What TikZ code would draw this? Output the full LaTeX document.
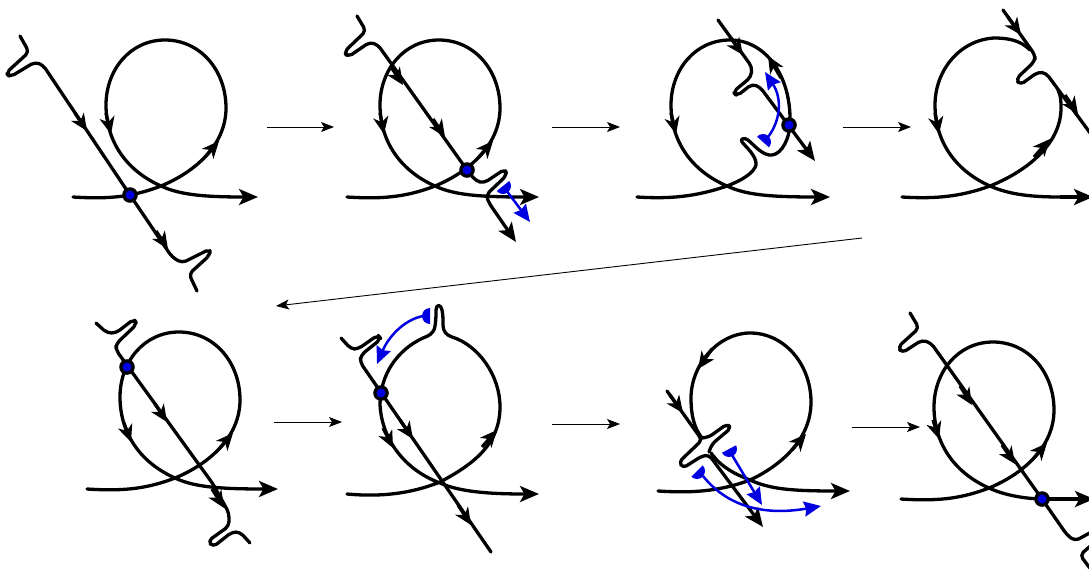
\documentclass[tikz,border=0pt]{standalone}
\usetikzlibrary{arrows.meta}
\definecolor{bl}{RGB}{0,0,225}
\tikzset{
  x=1pt,y=-1pt,
  strand/.style={line width=3.3pt,line cap=round,line join=round,rounded corners=4.5pt},
  loopline/.style={line width=3.3pt,line cap=round,line join=round},
  endtip/.style={-{Stealth[length=19pt,width=16pt,inset=4.5pt]}},
  midtip/.style={-{Stealth[length=17pt,width=15pt,inset=5pt]}},
  notip/.style={},
  thin arrow/.style={line width=0.9pt,-{Stealth[length=13pt,width=10pt,inset=3pt]}},
  bluestem/.style={draw=bl,line width=2.5pt,-{Stealth[length=17pt,width=15pt,inset=2pt]}},
}
\def\mh(#1)(#2){\draw[line width=3.3pt,midtip] (#1)--(#2);}
\def\hd(#1)#2{\fill[bl,shift={(#1)},rotate=#2] (0,8pt) arc (90:-90:8pt) -- cycle;}
\def\dt(#1){\fill (#1) circle (7.8pt); \fill[bl] (#1) circle (4.5pt);}
\def\stdloop#1#2#3#4{\draw[loopline,#4,shift={(#1,#2)}] (73,197) .. controls (105,199) and (130,198) .. (161,186) .. controls (195,172) and (226,145) .. (226,108) .. controls (226,70) and (200,40) .. (165,40) .. controls (130,40) and (106,70) .. (106,105) .. controls (106,140) and (125,170) .. (161,186) .. controls (180,195) and (205,197) .. (#3,197);}
\begin{document}
\begin{tikzpicture}
\useasboundingbox (0,0) rectangle (1089,568);
\clip (0,0) rectangle (1089,568);
% ---- small arrows between panels
\coordinate (a1) at (267,127); \coordinate (b1) at (334,127);
\coordinate (a2) at (552,127); \coordinate (b2) at (620,127);
\coordinate (a3) at (843,127); \coordinate (b3) at (911,127);
\coordinate (a4) at (862,238); \coordinate (b4) at (276,306);
\coordinate (a5) at (274,422); \coordinate (b5) at (342,422);
\coordinate (a6) at (552,424); \coordinate (b6) at (620,424);
\coordinate (a7) at (852,427); \coordinate (b7) at (920,427);
\draw[thin arrow] (a1)--(b1);
\draw[thin arrow] (a2)--(b2);
\draw[thin arrow] (a3)--(b3);
\draw[thin arrow] (a4)--(b4);
\draw[thin arrow] (a5)--(b5);
\draw[thin arrow] (a6)--(b6);
\draw[thin arrow] (a7)--(b7);
% ---- panel 1
\stdloop{0}{0}{258}{endtip}
\mh(106,113)(111,134)
\mh(205,157)(219,141)
\draw[strand] (20,36)--(29,52)--(6,73)--(10,77)--(35,62)--(43,65)--(130,195)--(172,257)--(182,263)--(210,249)--(210,255)--(189,274)--(197,291);
\mh(75,113)(87,131)
\mh(156,231)(168,249)
\dt(130,195)
% ---- panel 2
\stdloop{274}{0}{265}{endtip}
\mh(380,113)(384,134)
\mh(479,157)(493,141)
\draw[strand,endtip] (357,16)--(366,31)--(344,52)--(348,57)--(370,42)--(378,45)--(467,170)--(476,181)--(484,183)--(505,169)--(507,175)--(486,195)--(489,203)--(516,242);
\mh(391,67)(403,85)
\mh(433,119)(445,137)
\dt(467,170)
\hd(503,186){-51}
\draw[bluestem] (506,190)--(530,222);
% ---- panel 3
\draw[loopline,endtip] (637,197) .. controls (669,199) and (695,197) .. (727,186) .. controls (745,179) and (754,172) .. (756,165) .. controls (757,156) and (745,146) .. (742,142) .. controls (740,139) and (744,137) .. (748,140) .. controls (755,146) and (763,156) .. (772,155) .. controls (782,154) and (790,138) .. (790,122) .. controls (791,75) and (765,40) .. (730,40) .. controls (695,40) and (671,70) .. (671,105) .. controls (671,140) and (690,170) .. (727,186) .. controls (746,195) and (770,197) .. (830,197);
\mh(671,113)(676,134)
\mh(781,78)(768,56)
\draw[strand,endtip] (718,20)--(752,67)--(751,77)--(733,92)--(737,96)--(752,84)--(760,87)--(815,161);
\mh(730,37)(743,55)
\dt(789,125)
\hd(763,142){48}
\draw[bluestem] (768,137) .. controls (781,120) and (782,98) .. (765,72);
% ---- panel 4
\draw[loopline] (902,197) .. controls (934,199) and (960,197) .. (990,186) .. controls (1025,172) and (1061,145) .. (1061,108) .. controls (1061,102) and (1061,96) .. (1058,90);
\draw[loopline] (1030,50) .. controls (1022,42) and (1012,38) .. (994,38) .. controls (960,40) and (935,70) .. (935,105) .. controls (935,140) and (954,170) .. (990,186) .. controls (1010,195) and (1034,197) .. (1060,197);
\draw[line width=3.3pt,endtip] (1060,197)--(1093,197);
\mh(935,113)(939,134)
\mh(1034,157)(1050,139)
\draw[strand] (1003,10)--(1035,55)--(1035,61)--(1016,79)--(1020,85)--(1038,72)--(1046,73)--(1110,160);
\mh(1008,17)(1021,35)
\mh(1065,95)(1078,114)
% ---- panel 5
\stdloop{14}{292}{264}{endtip}
\mh(124,423)(131,442)
\mh(219,449)(233,433)
\draw[strand] (96,323)--(107,333)--(116,333)--(134,319)--(137,324)--(116,344)--(116,350)--(213,484)--(229,513)--(229,526)--(208,541)--(213,547)--(232,532)--(240,532)--(250,543);
\mh(155,404)(167,422)
\mh(212,489)(224,508)
\dt(127,367)
% ---- panel 6
\draw[loopline,endtip] (347,494) .. controls (380,497) and (410,494) .. (440,482) .. controls (472,465) and (500,445) .. (500,407) .. controls (500,375) and (478,345) .. (452,337) .. controls (446,335) and (443,331) .. (443,325) .. controls (443,318) and (443,315) .. (442,310) .. controls (441,304) and (436,304) .. (436,310) .. controls (436,315) and (436,320) .. (435,326) .. controls (434,334) and (428,336) .. (423,338) .. controls (397,350) and (380,375) .. (380,405) .. controls (382,440) and (405,470) .. (440,483) .. controls (460,492) and (490,494) .. (539,494);
\mh(383,428)(393,448)
\mh(482,447)(497,430)
\draw[strand] (341,338)--(351,349)--(358,349)--(378,335)--(381,339)--(361,355)--(360,362)--(491,552);
\mh(400,420)(413,439)
\mh(458,505)(471,525)
\dt(381,393)
\hd(430,316){180}
\draw[bluestem] (423,316) .. controls (403,320) and (388,338) .. (377,364);
% ---- panel 7
\draw[loopline] (658,491) .. controls (690,493) and (718,492) .. (750,480) .. controls (780,466) and (811,440) .. (811,402) .. controls (811,365) and (785,333) .. (750,333) .. controls (718,333) and (691,365) .. (691,398) .. controls (691,415) and (694,428) .. (702,438);
\draw[loopline,endtip] (711,453) .. controls (722,468) and (735,474) .. (750,480) .. controls (770,489) and (790,491) .. (850,491);
\draw[strand,rounded corners=4pt] (702,438)--(709,437)--(727,424)--(731,428)--(712,444)--(709,452);
\draw[strand,endtip,rounded corners=4pt] (667,391)--(702,440)--(679,462)--(683,468)--(702,456)--(709,455)--(763,527);
\mh(712,349)(698,369)
\mh(792,450)(806,434)
\mh(670,395)(683,413)
\hd(729,449){-62}
\draw[bluestem] (732,455)--(762,505);
\hd(697,471){-45}
\draw[bluestem] (703,476) .. controls (730,510) and (770,515) .. (821,506);
% ---- panel 8
\stdloop{828}{302}{214}{notip}
\draw[line width=3.3pt,endtip] (1042,499)--(1094,499);
\mh(933,420)(939,439)
\mh(1033,459)(1047,443)
\draw[strand] (910,313)--(919,328)--(898,347)--(902,353)--(922,340)--(931,343)--(1042,499)--(1067,535)--(1075,541)--(1095,530);
\draw[strand] (1095,542)--(1080,555)--(1095,575);
\mh(960,386)(972,405)
\mh(1002,445)(1015,464)
\dt(1042,499)
\end{tikzpicture}
\end{document}
